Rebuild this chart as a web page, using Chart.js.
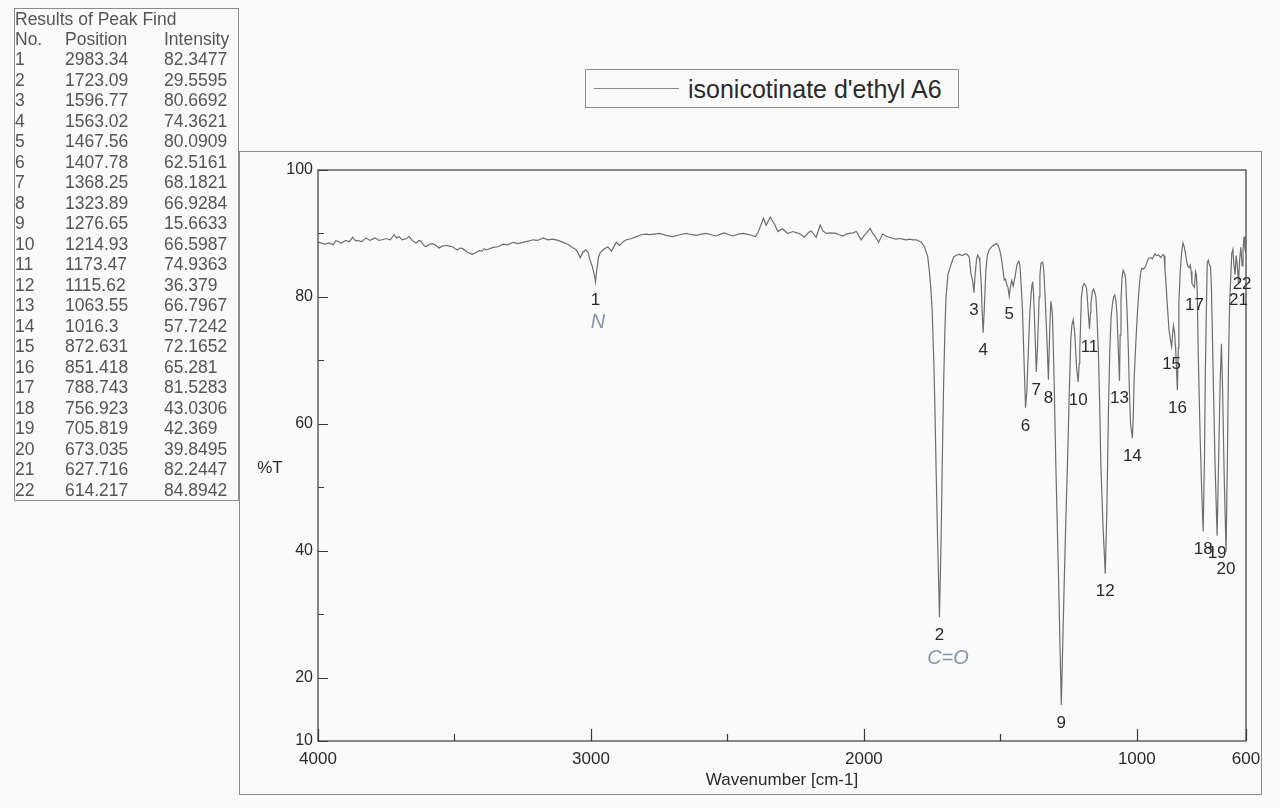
<!DOCTYPE html>
<html>
<head>
<meta charset="utf-8">
<title>isonicotinate d'ethyl A6</title>
<script src="https://cdn.jsdelivr.net/npm/chart.js@4.4.1/dist/chart.umd.min.js"></script>
<style>
  html, body { margin: 0; padding: 0; background: #fafafa; }
  body { width: 1280px; height: 808px; position: relative; overflow: hidden;
         font-family: "Liberation Sans", Arial, sans-serif; }
  #chart { position: absolute; left: 0; top: 0; }
  .box { position: absolute; border: 1px solid #8c8c8c; box-sizing: border-box; }
  #outerFrame { left: 239px; top: 151px; width: 1023px; height: 644px; }
  #peakTable { left: 14px; top: 8px; width: 225px; height: 493px; }
  .cell { position: absolute; font-size: 17.5px; color: #555; white-space: nowrap; line-height: 20px; }
  #legend { left: 585px; top: 69px; width: 374px; height: 39px; background: #fafafa; }
  #legend .sample { position: absolute; left: 8px; top: 18px; width: 85px; border-top: 1px solid #8a8a8a; }
  #legend .label { position: absolute; left: 102px; top: 5px; font-size: 25px; color: #2a2a2a; line-height: 28px; white-space: nowrap; }
</style>
</head>
<body>
<div class="box" id="outerFrame"></div>
<canvas id="chart" width="1280" height="808"></canvas>
<div class="box" id="peakTable"></div>
<div class="box" id="legend"><div class="sample"></div><div class="label">isonicotinate d'ethyl A6</div></div>
<script>
// spectrum: wavenumber (cm-1) and %T
const wavenumbers = [
  4000, 3995, 3975, 3960, 3945, 3934, 3915, 3898, 3885, 3873, 3862, 3855, 3840, 3824, 3810, 3800,
  3790, 3777, 3765, 3751, 3735, 3721, 3712, 3702, 3692, 3684, 3675, 3666, 3655, 3641, 3630, 3623,
  3614, 3605, 3592, 3580, 3568, 3556, 3545, 3532, 3520, 3507, 3497, 3489, 3480, 3470, 3455, 3445,
  3434, 3422, 3410, 3398, 3391, 3383, 3370, 3358, 3340, 3322, 3305, 3285, 3268, 3249, 3230, 3212,
  3195, 3175, 3158, 3139, 3120, 3102, 3085, 3072, 3060, 3053, 3039, 3030, 3019, 3010, 3005, 2995,
  2988, 2983.34, 2978, 2972, 2966, 2953, 2938, 2925, 2915, 2907, 2895, 2882, 2870, 2850, 2834, 2815,
  2797, 2785, 2768, 2748, 2725, 2700, 2675, 2651, 2630, 2614, 2595, 2577, 2560, 2541, 2525, 2510,
  2495, 2480, 2460, 2443, 2430, 2419, 2397, 2388, 2382, 2368, 2358, 2343, 2335, 2327, 2315, 2305,
  2297, 2279, 2260, 2245, 2236, 2218, 2199, 2193, 2175, 2160, 2150, 2138, 2120, 2102, 2090, 2077,
  2065, 2053, 2040, 2028, 2010, 2000, 1992, 1977, 1968, 1961, 1946, 1931, 1920, 1907, 1895, 1882,
  1870, 1858, 1845, 1833, 1820, 1809, 1798, 1790, 1778, 1766, 1760, 1755, 1750, 1744, 1740, 1735,
  1730, 1723.09, 1717, 1712, 1708, 1703, 1699, 1692, 1683, 1671, 1660, 1650, 1640, 1626, 1620, 1614,
  1608, 1601, 1596.77, 1592, 1587, 1583, 1578, 1575, 1570, 1567, 1563.02, 1559, 1553, 1548, 1541, 1530,
  1522, 1514, 1508, 1504, 1499, 1494, 1490, 1486, 1481, 1477, 1472, 1467.56, 1463, 1458, 1453, 1446,
  1440, 1436, 1432, 1428, 1424, 1419, 1414, 1407.78, 1403, 1397, 1392, 1388, 1384, 1382, 1379, 1376,
  1372, 1368.25, 1364, 1360, 1358, 1355, 1351, 1346, 1343, 1340, 1336, 1330, 1323.89, 1319, 1315, 1312,
  1309, 1303, 1297, 1287, 1276.65, 1266, 1260, 1254, 1248, 1242, 1238, 1233, 1229, 1226, 1221, 1214.93,
  1211, 1209, 1203, 1198, 1193, 1188, 1184, 1180, 1177, 1173.47, 1170, 1168, 1163, 1159, 1155, 1150,
  1146, 1141, 1136, 1132, 1124, 1115.62, 1110, 1108, 1104, 1099, 1094, 1089, 1085, 1081, 1077, 1073,
  1068, 1063.55, 1061, 1058, 1054, 1050, 1047, 1044, 1041, 1036, 1031, 1027, 1023, 1016.3, 1013, 1010,
  1004, 998, 993, 989, 985, 982, 975, 968, 962, 956, 950, 943, 934, 928, 920, 912,
  904, 900, 897, 894, 888, 882, 876, 872.631, 869, 866, 862, 858, 851.418, 848, 846, 841,
  836, 831, 827, 822, 817, 813, 808, 804, 801, 798, 788.743, 785, 782, 779, 775, 768,
  762, 756.923, 752, 749, 746, 742, 738, 734, 730, 727, 724, 719, 713, 705.819, 700, 695,
  690, 686, 680, 673.035, 668, 664, 660, 656, 652, 648, 644, 640, 636, 632, 627.716, 623,
  619, 614.217, 611, 607, 604, 600
];
const transmittance = [
  88.6, 88.6, 88.3, 88.5, 88.2, 88.9, 88.5, 88.9, 88.7, 89.4, 88.8, 88.9, 88.7, 89.3, 88.9, 89.1,
  89.3, 88.9, 89.0, 89.2, 89.0, 89.8, 89.3, 89.5, 89.0, 89.1, 89.2, 89.5, 88.9, 88.5, 88.9, 88.8,
  88.2, 87.9, 88.3, 88.4, 88.1, 87.7, 88.0, 88.1, 88.0, 87.9, 87.6, 87.4, 87.7, 87.6, 87.1, 86.9,
  86.7, 87.0, 87.3, 87.2, 87.6, 87.4, 87.6, 87.8, 87.9, 88.3, 88.2, 88.6, 88.4, 88.6, 88.8, 89.0,
  88.9, 89.3, 89.0, 89.1, 88.9, 88.6, 88.3, 87.9, 87.6, 87.4, 86.2, 87.0, 87.4, 87.0, 86.0, 84.8,
  83.5, 82.3477, 84.5, 86.3, 87.0, 87.5, 87.9, 87.2, 88.0, 88.6, 88.1, 88.7, 89.0, 89.2, 89.5, 89.8,
  89.9, 89.8, 89.9, 90.0, 89.7, 89.5, 89.8, 90.0, 89.8, 89.7, 89.9, 90.0, 89.8, 89.6, 89.9, 90.1,
  89.8, 89.6, 89.9, 90.0, 89.9, 89.8, 89.5, 90.2, 90.8, 92.4, 91.3, 92.6, 92.0, 91.4, 90.3, 90.6,
  90.7, 90.0, 90.3, 90.1, 90.0, 89.4, 90.3, 90.4, 89.4, 91.3, 90.4, 90.0, 90.1, 90.0, 89.8, 89.6,
  89.9, 90.0, 90.1, 90.3, 89.0, 89.6, 90.0, 90.8, 90.0, 89.7, 88.6, 89.9, 89.6, 89.4, 89.2, 89.1,
  89.2, 89.1, 89.0, 89.1, 89.0, 89.0, 88.8, 88.6, 87.9, 86.3, 84.0, 81.5, 78.0, 70.0, 63.0, 52.0,
  42.0, 29.5595, 42.0, 56.0, 66.0, 75.0, 80.0, 83.5, 84.8, 86.3, 86.6, 86.7, 86.5, 86.8, 86.6, 86.3,
  83.7, 82.4, 80.6692, 83.7, 86.0, 86.6, 86.2, 85.5, 82.0, 78.0, 74.3621, 78.0, 84.2, 86.5, 87.4, 88.0,
  88.2, 88.4, 88.1, 87.6, 86.8, 85.5, 84.0, 82.7, 82.8, 82.0, 81.5, 80.0909, 81.6, 82.6, 81.7, 83.2,
  84.9, 85.4, 85.6, 84.8, 82.0, 78.0, 71.0, 62.5161, 65.0, 72.0, 77.5, 80.0, 82.0, 82.4, 81.0, 78.0,
  73.0, 68.1821, 72.0, 77.0, 80.0, 83.5, 85.3, 85.5, 85.1, 83.5, 80.0, 74.0, 66.9284, 75.0, 79.3, 78.4,
  76.9, 67.0, 54.0, 36.0, 15.6633, 35.0, 45.0, 53.8, 64.0, 73.2, 75.5, 76.4, 75.0, 73.2, 69.0, 66.5987,
  69.5, 71.6, 80.0, 81.6, 82.1, 81.8, 81.3, 79.0, 77.0, 74.9363, 77.5, 79.0, 80.8, 81.2, 80.8, 80.0,
  77.0, 71.6, 63.0, 53.8, 44.0, 36.379, 46.0, 51.1, 62.0, 71.6, 77.0, 79.0, 80.0, 80.3, 79.5, 77.4,
  72.0, 66.7967, 74.0, 79.5, 83.2, 84.2, 84.2, 83.6, 82.7, 78.0, 71.6, 65.0, 60.0, 57.7242, 61.0, 66.9,
  72.5, 77.4, 80.5, 82.7, 84.0, 84.5, 84.4, 84.8, 85.6, 86.1, 86.2, 86.0, 86.8, 86.5, 86.6, 86.2,
  86.7, 86.5, 84.4, 82.7, 78.5, 74.8, 73.0, 72.1652, 74.0, 75.5, 74.5, 72.0, 65.281, 72.0, 79.0, 84.0,
  86.9, 88.5, 88.0, 86.9, 85.5, 84.8, 84.6, 85.0, 84.0, 82.1, 81.5283, 84.0, 83.5, 81.3, 71.0, 58.0,
  49.0, 43.0306, 55.0, 68.0, 76.1, 85.4, 85.8, 85.0, 84.8, 82.0, 76.0, 65.0, 53.0, 42.369, 55.0, 66.0,
  72.6, 66.0, 52.0, 39.8495, 55.0, 70.0, 79.0, 83.0, 86.9, 87.5, 85.0, 83.5, 86.5, 85.0, 82.2447, 86.0,
  87.8, 84.8942, 87.5, 89.5, 87.5, 87.0
];

// Results of Peak Find
const peakNo = [1, 2, 3, 4, 5, 6, 7, 8, 9, 10, 11, 12, 13, 14, 15, 16, 17, 18, 19, 20, 21, 22];
const peakPos = ["2983.34", "1723.09", "1596.77", "1563.02", "1467.56", "1407.78", "1368.25", "1323.89",
  "1276.65", "1214.93", "1173.47", "1115.62", "1063.55", "1016.3", "872.631", "851.418", "788.743",
  "756.923", "705.819", "673.035", "627.716", "614.217"];
const peakInt = ["82.3477", "29.5595", "80.6692", "74.3621", "80.0909", "62.5161", "68.1821", "66.9284",
  "15.6633", "66.5987", "74.9363", "36.379", "66.7967", "57.7242", "72.1652", "65.281", "81.5283",
  "43.0306", "42.369", "39.8495", "82.2447", "84.8942"];

const xTickValues = [4000, 3500, 3000, 2500, 2000, 1500, 1000, 600];
const xTickLabels = [4000, 3000, 2000, 1000, 600];
const yTickValues = [10, 20, 30, 40, 50, 60, 70, 80, 90, 100];
const yTickLabels = [10, 20, 40, 60, 80, 100];

const FONT = '"Liberation Sans", Arial, sans-serif';

// peak table on the left
const table = document.getElementById("peakTable");
function addCell(text, left, top) {
  const d = document.createElement("div");
  d.className = "cell";
  d.textContent = text;
  d.style.left = left + "px";
  d.style.top = top + "px";
  table.appendChild(d);
}
addCell("Results of Peak Find", 0, -0.5);
addCell("No.", 0, 20);
addCell("Position", 50, 20);
addCell("Intensity", 149, 20);
peakNo.forEach((n, i) => {
  const top = 40 + i * 20.5;
  addCell(String(n), 0, top);
  addCell(peakPos[i], 50, top);
  addCell(peakInt[i], 149, top);
});

const frameAndTicks = {
  id: "frameAndTicks",
  afterDatasetsDraw(chart) {
    const { ctx, chartArea: a, scales: { x, y } } = chart;
    ctx.save();
    ctx.strokeStyle = "#3a3a3a";
    ctx.lineWidth = 1.2;
    ctx.strokeRect(a.left, a.top, a.right - a.left, a.bottom - a.top);
    ctx.beginPath();
    xTickValues.forEach(v => {
      const px = Math.round(x.getPixelForValue(v)) + 0.5;
      const len = xTickLabels.includes(v) ? 12 : 7;
      ctx.moveTo(px, a.bottom);
      ctx.lineTo(px, a.bottom - len);
    });
    yTickValues.forEach(v => {
      const py = Math.round(y.getPixelForValue(v)) + 0.5;
      const len = yTickLabels.includes(v) ? 10 : 6;
      ctx.moveTo(a.left, py);
      ctx.lineTo(a.left + len, py);
    });
    ctx.stroke();

    // peak numbers under each minimum
    ctx.fillStyle = "#2a2a2a";
    ctx.font = "17px " + FONT;
    ctx.textAlign = "center";
    ctx.textBaseline = "middle";
    peakNo.forEach((n, i) => {
      const px = x.getPixelForValue(parseFloat(peakPos[i]));
      const py = y.getPixelForValue(parseFloat(peakInt[i]));
      ctx.fillText(String(n), px, py + 18);
    });

    // y axis title
    ctx.font = "17px " + FONT;
    ctx.fillText("%T", 270, 468);

    // pencil notes on the print
    ctx.fillStyle = "#8a93a6";
    ctx.font = "italic 20px " + FONT;
    ctx.fillText("N", 598, 322);
    ctx.fillText("C=O", 948, 658);
    ctx.restore();
  }
};

new Chart(document.getElementById("chart"), {
  type: "line",
  data: {
    datasets: [{
      label: "isonicotinate d'ethyl A6",
      data: wavenumbers.map((w, i) => ({ x: w, y: transmittance[i] })),
      borderColor: "#6e6e6e",
      borderWidth: 1.2,
      pointRadius: 0,
      tension: 0,
      fill: false
    }]
  },
  options: {
    responsive: false,
    animation: false,
    layout: { padding: { top: 170, right: 34, left: 0, bottom: 0 } },
    plugins: { legend: { display: false }, tooltip: { enabled: false } },
    scales: {
      x: {
        type: "linear",
        reverse: true,
        min: 600,
        max: 4000,
        afterBuildTicks: s => { s.ticks = xTickValues.map(v => ({ value: v })); },
        afterFit: s => { s.height = 67; },
        grid: { display: false, drawTicks: false },
        border: { display: false },
        ticks: {
          autoSkip: false,
          maxRotation: 0,
          padding: 8,
          color: "#2a2a2a",
          font: { family: FONT, size: 17 },
          callback: v => (xTickLabels.includes(v) ? String(v) : "")
        },
        title: {
          display: true,
          text: "Wavenumber [cm-1]",
          color: "#2a2a2a",
          font: { family: FONT, size: 17 },
          padding: { top: 0, bottom: 17 }
        }
      },
      y: {
        type: "linear",
        min: 10,
        max: 100,
        afterBuildTicks: s => { s.ticks = yTickValues.map(v => ({ value: v })); },
        afterFit: s => { s.width = 318; },
        grid: { display: false, drawTicks: false },
        border: { display: false },
        ticks: {
          autoSkip: false,
          padding: 5,
          color: "#2a2a2a",
          font: { family: FONT, size: 16 },
          callback: v => (yTickLabels.includes(v) ? String(v) : "")
        }
      }
    }
  },
  plugins: [frameAndTicks]
});
</script>
</body>
</html>
